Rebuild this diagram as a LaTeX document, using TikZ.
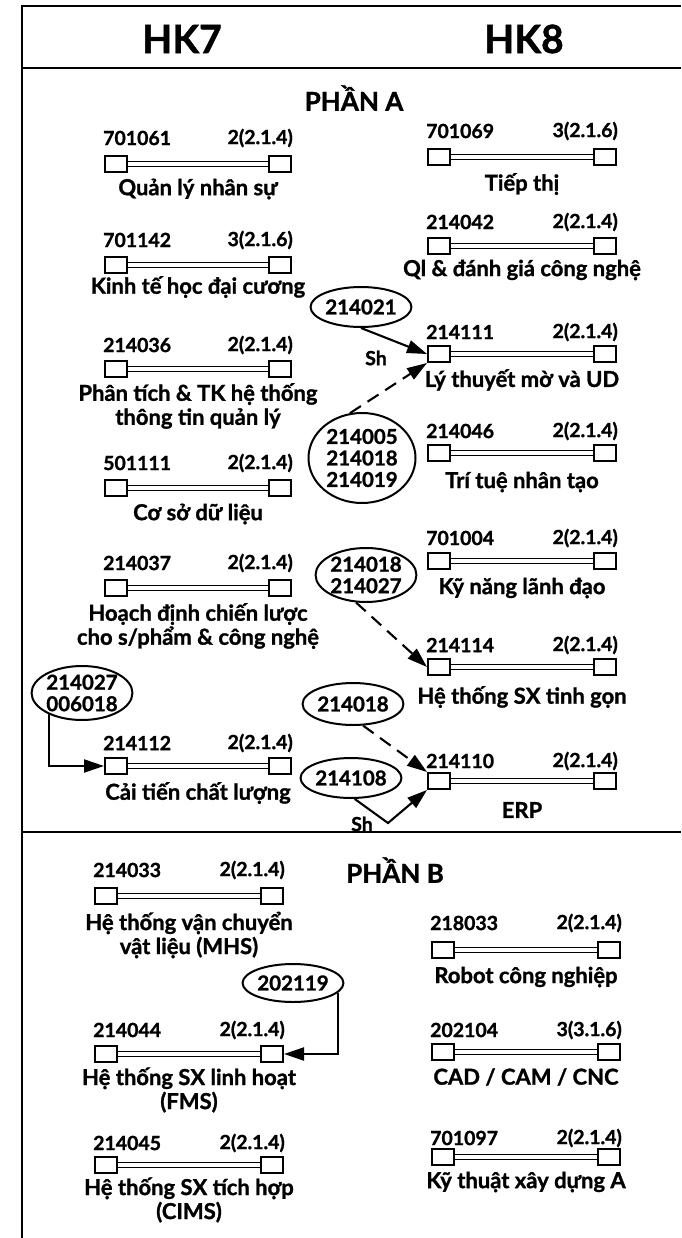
\documentclass[tikz,border=0pt]{standalone}
\usepackage{fontspec}
\setmainfont{Lato}[BoldFeatures={FakeBold=1.2}]
\usetikzlibrary{arrows.meta,shapes.geometric}
\tikzset{
 frame/.style={line width=2.4pt},
 sq/.style={draw, line width=2pt, minimum width=22pt, minimum height=16pt, inner sep=0pt, fill=white},
 bar/.style={double, double distance=3.2pt, line width=1.8pt},
 lbl/.style={inner sep=0pt, font=\bfseries\fontsize{19.5}{24}\selectfont},
 nm/.style={inner sep=0pt, align=center, font=\bfseries\fontsize{22}{24}\selectfont},
 ell/.style={draw, ellipse, line width=2pt, inner sep=0pt, align=center, font=\bfseries\fontsize{20.5}{21.5}\selectfont},
 arr/.style={line width=2.1pt, -{Triangle[length=20pt,width=13pt]}},
 darr/.style={arr, dash pattern=on 13pt off 8pt},
 head/.style={inner sep=0pt, font=\bfseries\fontsize{39}{39}\selectfont},
 part/.style={inner sep=0pt, font=\bfseries\fontsize{26}{26}\selectfont},
}
\newcommand\crs[9]{%
 \node[sq] (#1l) at (#2+11,#5) {};
 \node[sq] (#1r) at (#3-11,#5) {};
 \draw[bar] (#1l) -- (#1r);
 \node[lbl,anchor=west] (#1c) at (#2-2,#4) {#7};
 \node[lbl,anchor=east] (#1k) at (#3+2,#4) {#8};
 \node[nm] (#1n) at ({(#2+#3)/2},#6) {#9};
}
\begin{document}
\begin{tikzpicture}[x=1pt,y=-1pt]
\useasboundingbox (0,0) rectangle (681,1238);
% frame
\coordinate (tl) at (22,6);
\coordinate (tr) at (681,6);
\coordinate (bl) at (22,1238);
\coordinate (hl) at (22,68);
\coordinate (hr) at (681,68);
\coordinate (dl) at (22,832);
\coordinate (dr) at (681,832);
\draw[frame] (tr) -- (tl) -- (bl);
\draw[frame] (hl) -- (hr);
\draw[frame] (dl) -- (dr);
% headers
\node[head] (hk7) at (182,39) {HK7};
\node[head] (hk8) at (524,39) {HK8};
\node[part] (pa) at (354,98) {PHẦN A};
\node[part] (pb) at (395,870) {PHẦN B};
% left A
\crs{L1}{105}{291}{138}{164}{189}{701061}{2(2.1.4)}{Quản lý nhân sự}
\crs{L2}{105}{291}{240}{265}{287}{701142}{3(2.1.6)}{Kinh tế học đại cương}
\crs{L3}{105}{291}{345}{369}{406}{214036}{2(2.1.4)}{Phân tích \& TK hệ thống\\thông tin quản lý}
\crs{L4}{105}{291}{463}{488}{514}{501111}{2(2.1.4)}{Cơ sở dữ liệu}
\crs{L5}{105}{291}{563}{588}{626}{214037}{2(2.1.4)}{Hoạch định chiến lược\\cho s/phẩm \& công nghệ}
\crs{L6}{105}{291}{743}{766}{793}{214112}{2(2.1.4)}{Cải tiến chất lượng}
% left B
\crs{L7}{95}{283}{870}{896}{935}{214033}{2(2.1.4)}{Hệ thống vận chuyển\\vật liệu (MHS)}
\crs{L8}{95}{283}{1030}{1054}{1090}{214044}{2(2.1.4)}{Hệ thống SX linh hoạt\\(FMS)}
\crs{L9}{95}{283}{1143}{1165}{1200}{214045}{2(2.1.4)}{Hệ thống SX tích hợp\\(CIMS)}
% right A
\crs{R1}{428}{616}{131}{157}{184}{701069}{3(2.1.6)}{Tiếp thị}
\crs{R2}{428}{616}{222}{246}{270}{214042}{2(2.1.4)}{Ql \& đánh giá công nghệ}
\crs{R3}{428}{616}{332}{354}{380}{214111}{2(2.1.4)}{Lý thuyết mờ và UD}
\crs{R4}{428}{616}{431}{453}{482}{214046}{2(2.1.4)}{Trí tuệ nhân tạo}
\crs{R5}{428}{616}{538}{561}{588}{701004}{2(2.1.4)}{Kỹ năng lãnh đạo}
\crs{R6}{428}{616}{645}{667}{697}{214114}{2(2.1.4)}{Hệ thống SX tinh gọn}
\crs{R7}{428}{616}{761}{781}{810}{214110}{2(2.1.4)}{ERP}
% right B
\crs{R8}{432}{620}{923}{950}{977}{218033}{2(2.1.4)}{Robot công nghiệp}
\crs{R9}{432}{620}{1030}{1052}{1077}{202104}{3(3.1.6)}{CAD / CAM / CNC}
\crs{R10}{432}{620}{1138}{1157}{1182}{701097}{2(2.1.4)}{Kỹ thuật xây dựng A}
% ellipses
\node[ell, minimum width=94pt, minimum height=40pt] (e1) at (361,307) {214021};
\node[ell, minimum width=107pt, minimum height=90pt] (e2) at (362,458) {214005\\214018\\214019};
\node[ell, minimum width=95pt, minimum height=54pt] (e3) at (366,575) {214018\\214027};
\node[ell, minimum width=99pt, minimum height=54pt] (e4) at (82,693) {214027\\006018};
\node[ell, minimum width=93pt, minimum height=42pt] (e5) at (353,704) {214018};
\node[ell, minimum width=94pt, minimum height=40pt] (e6) at (351,778) {214108};
\node[ell, minimum width=84pt, minimum height=38pt] (e7) at (293,983) {202119};
% connectors
\draw[arr] (e1.south) -- (R3l.west);
\node[lbl] (sh1) at (376,358) {Sh};
\draw[darr] (e2.105) -- (R3l.south west);
\draw[darr] (e3.-110) -- (R6l.west);
\draw[darr] (e5.-65) -- (R7l.north west);
\coordinate (v) at (388,823);
\draw[arr] (e6.-80) -- (v) -- (R7l.south west);
\node[lbl] (sh2) at (362,824) {Sh};
\draw[arr] (e4.-147) |- (L6l.west);
\draw[arr] (e7.-12) |- (L8r.east);
\end{tikzpicture}
\end{document}
